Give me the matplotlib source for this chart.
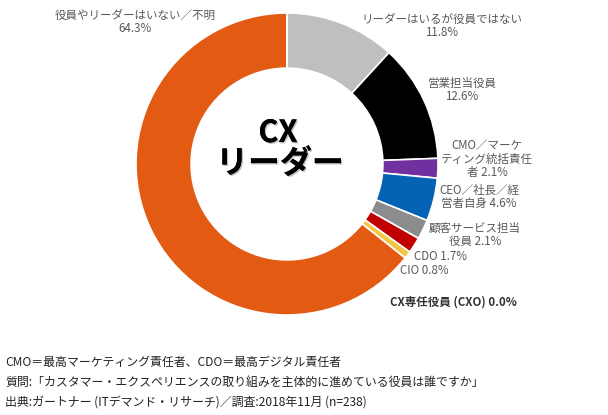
import matplotlib.pyplot as plt
import matplotlib.patheffects as pe

plt.rcParams['font.family'] = ['Noto Sans CJK JP', 'DejaVu Sans']

# slices, clockwise from 12 o'clock
labels = [
    "リーダーはいるが役員ではない\n11.8%",
    "営業担当役員\n12.6%",
    "CMO／マーケ\nティング統括責任\n者 2.1%",
    "CEO／社長／経\n営者自身 4.6%",
    "顧客サービス担当\n役員 2.1%",
    "CDO 1.7%",
    "CIO 0.8%",
    "役員やリーダーはいない／不明\n64.3%",
    "CX専任役員 (CXO) 0.0%",
]
values = [11.8, 12.6, 2.1, 4.6, 2.1, 1.7, 0.8, 64.3, 0.0]
colors = ["#BFBFBF", "#000000", "#7030A0", "#0563B5", "#8A8C8E",
          "#C00000", "#F4C542", "#E35A12", "#FFFFFF"]

# label anchor points in image pixels (x, y from top)
label_pos = [(442, 26), (462, 90), (487, 159), (479, 197), (475, 235),
             (440, 256), (424, 270), (135, 22), (453, 302)]

notes = [
    "CMO＝最高マーケティング責任者、CDO＝最高デジタル責任者",
    "質問:「カスタマー・エクスペリエンスの取り組みを主体的に進めている役員は誰ですか」",
    "出典:ガートナー (ITデマンド・リサーチ)／調査:2018年11月 (n=238)",
]

W, H = 608, 415
cx, cy, r = 287, 164, 151

fig = plt.figure(figsize=(W / 100, H / 100), dpi=100)
ax = fig.add_axes([(cx - r) / W, (H - cy - r) / H, 2 * r / W, 2 * r / H])
ax.pie(values, colors=colors, startangle=90, counterclock=False, radius=1,
       wedgeprops=dict(width=0.365, edgecolor="white", linewidth=1.2))
ax.set_xlim(-1, 1)
ax.set_ylim(-1, 1)
ax.set_aspect("equal")
ax.axis("off")

shadow = [pe.withSimplePatchShadow(offset=(1, -1), shadow_rgbFace="gray", alpha=0.5), pe.Normal()]
ax.text(-0.06, 0.205, "CX", ha="center", va="center", fontsize=22,
        fontweight="bold", color="black", path_effects=shadow)
ax.text(-0.046, 0.0, "リーダー", ha="center", va="center", fontsize=23,
        fontweight="bold", color="black", path_effects=shadow)

for lab, (x, y) in zip(labels, label_pos):
    bold = lab.startswith("CX")
    fig.text(x / W, 1 - y / H, lab, ha="center", va="center", fontsize=8.3,
             color="#333333" if bold else "#595959",
             fontweight="bold" if bold else "normal", linespacing=1.05)

for i, line in enumerate(notes):
    fig.text(5 / W, 1 - (362 + i * 20.5) / H, line, ha="left", va="center",
             fontsize=8.6, color="#222222")

fig.savefig("out.png", dpi=100, facecolor="white")
